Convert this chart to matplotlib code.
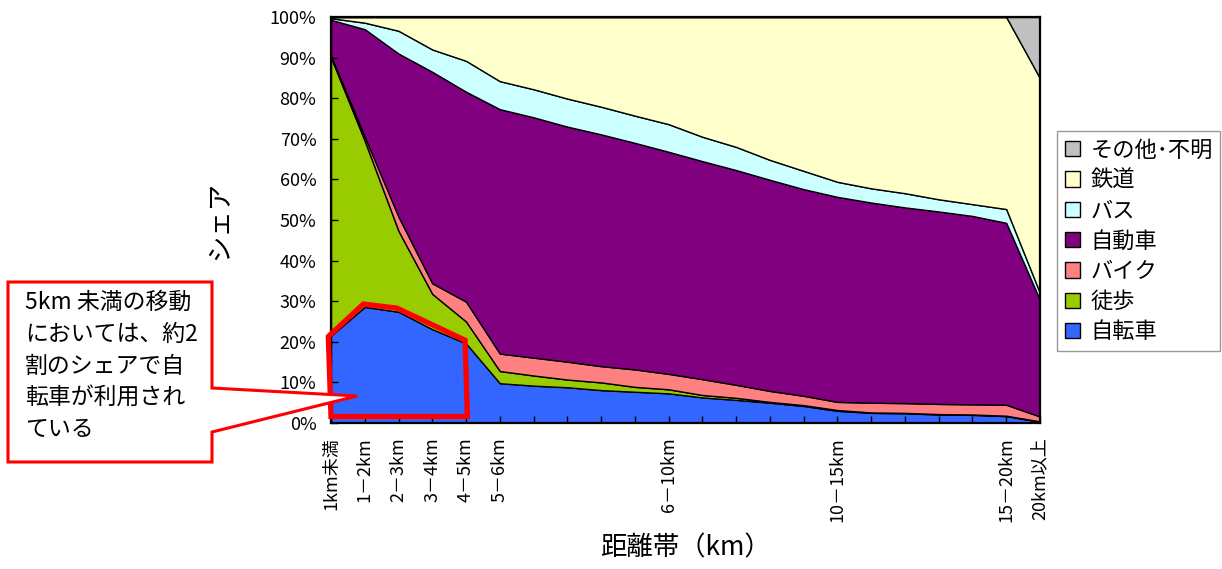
import matplotlib
matplotlib.use("Agg")
import matplotlib.pyplot as plt
from matplotlib.patches import Patch, Polygon

plt.rcParams['font.family'] = ['Noto Sans CJK JP', 'DejaVu Sans']

# distance bands (22 categories, only some are labelled)
categories = ['1km未満', '1－2km', '2－3km', '3－4km', '4－5km', '5－6km',
              '', '', '', '', '6－10km', '', '', '', '', '10－15km',
              '', '', '', '', '15－20km', '20km以上']

# modal share (%)
jitensha = [21.5, 28.6, 27.4, 23.1, 19.6, 9.8, 9.2, 8.8, 8.1, 7.7, 7.3,
            6.3, 5.7, 5.0, 4.2, 3.0, 2.5, 2.4, 2.1, 2.0, 1.7, 0.3]
toho = [68.5, 40.9, 19.9, 8.7, 5.4, 3.0, 2.5, 1.9, 1.9, 1.2, 1.0,
        0.6, 0.5, 0.2, 0.2, 0.2, 0.1, 0.1, 0.1, 0.1, 0.1, 0.1]
bike = [0.4, 1.0, 3.5, 2.6, 4.9, 4.3, 4.4, 4.4, 4.0, 4.3, 3.8,
        3.9, 3.2, 2.7, 2.3, 2.0, 2.4, 2.4, 2.5, 2.5, 2.7, 1.2]
jidosha = [8.9, 26.5, 40.2, 52.1, 51.7, 60.2, 59.2, 57.9, 57.1, 55.8, 54.7,
           53.7, 52.9, 52.0, 50.9, 50.5, 49.3, 48.2, 47.4, 46.4, 44.8, 28.7]
bus = [0.4, 1.6, 5.6, 5.5, 7.6, 6.9, 6.9, 6.9, 6.8, 6.7, 6.8,
       6.0, 5.7, 4.9, 4.5, 3.7, 3.5, 3.5, 3.0, 2.9, 3.4, 1.7]
tetsudo = [0.3, 1.4, 3.4, 8.0, 10.8, 15.8, 17.8, 20.1, 22.1, 24.3, 26.4,
           29.5, 32.0, 35.2, 37.9, 40.6, 42.2, 43.4, 44.9, 46.1, 47.3, 52.9]
sonota = [0, 0, 0, 0, 0, 0, 0, 0, 0, 0, 0,
          0, 0, 0, 0, 0, 0, 0, 0, 0, 0, 15.1]

series_names = ['自転車', '徒歩', 'バイク', '自動車', 'バス', '鉄道', 'その他･不明']
colors = ['#3366FF', '#99CC00', '#FF8080', '#800080', '#CCFFFF', '#FFFFCC', '#C0C0C0']

W, H = 1222, 569
fig = plt.figure(figsize=(W / 100, H / 100), dpi=100)
ax = fig.add_axes([331 / W, 1 - 423 / H, (1040 - 331) / W, (423 - 17) / H])

x = list(range(len(categories)))
ax.stackplot(x, jitensha, toho, bike, jidosha, bus, tetsudo, sonota,
             colors=colors, edgecolor='black', linewidth=1.0)

ax.set_xlim(0, len(categories) - 1)
ax.set_ylim(0, 100)
ax.set_xticks(x)
ax.set_xticklabels(categories, rotation=90, fontsize=13)
ax.set_yticks(range(0, 101, 10))
ax.set_yticklabels([f'{v}%' for v in range(0, 101, 10)], fontsize=13)
ax.tick_params(direction='in', length=5, width=1, pad=10.5)
for s in ax.spines.values():
    s.set_linewidth(1.6)
    s.set_color('black')

ax.set_xlabel('距離帯（km）', fontsize=19, labelpad=9)
ax.set_ylabel('シェア', fontsize=19, labelpad=26)

# legend, top series first
handles = [Patch(facecolor=c, edgecolor='black', linewidth=1.0) for c in colors]
leg = fig.legend(handles[::-1], series_names[::-1], loc='center left',
                 bbox_to_anchor=(1057 / W, 1 - 241 / H), fontsize=16,
                 frameon=True, fancybox=False, edgecolor='#808080',
                 handlelength=0.7, handleheight=0.7, handletextpad=0.45,
                 labelspacing=0.33, borderpad=0.35, borderaxespad=0)
leg.get_frame().set_linewidth(1.0)

# red outline around the short-trip bicycle share
ring_x = [-0.08, 0.96, 1.95, 3.97, 4.04, 0.0]
ring_y = [21.3, 29.3, 28.3, 20.4, 1.6, 1.6]
ax.add_patch(Polygon(list(zip(ring_x, ring_y)), closed=True, fill=False,
                     edgecolor='#FF0000', linewidth=3.8, joinstyle='miter',
                     clip_on=False, zorder=10))

# callout box with pointer
callout_px = [(8, 282), (212, 282), (212, 388), (357, 396), (212, 432),
              (212, 462), (8, 462)]
callout = Polygon([(px / W, 1 - py / H) for px, py in callout_px], closed=True,
                  facecolor='white', edgecolor='#FF0000', linewidth=2.2,
                  transform=fig.transFigure, zorder=20)
fig.patches.append(callout)
fig.text(25 / W, 1 - 291 / H,
         '5km 未満の移動\nにおいては、約2\n割のシェアで自\n転車が利用され\nている',
         fontsize=16.5, va='top', ha='left', linespacing=1.49, zorder=21)

fig.savefig('out.png', dpi=100)
